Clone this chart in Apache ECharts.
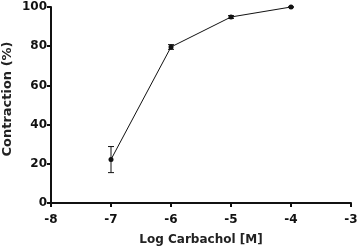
<!DOCTYPE html>
<html><head><meta charset="utf-8">
<script src="https://cdn.jsdelivr.net/npm/echarts@6/dist/echarts.min.js"></script>
<style>html,body{margin:0;padding:0;background:#fff}#c{width:358px;height:248px}</style>
</head><body><div id="c"></div>
<script>
const logConc = [-7, -6, -5, -4];
const contraction = [22.2, 79.6, 94.9, 100];
const errLow = [15.5, 78.4, 94.2, 100];
const errHigh = [28.8, 80.8, 95.6, 100];
const xTicks = [-8, -7, -6, -5, -4, -3];
const yTicks = [0, 20, 40, 60, 80, 100];
const xTitle = 'Log Carbachol [M]';
const yTitle = 'Contraction (%)';

const chart = echarts.init(document.getElementById('c'));
const font = 'DejaVu Sans, sans-serif';
chart.setOption({
  animation: false,
  grid: {left: 51, right: 7, top: 7, bottom: 45, outerBoundsMode: 'none', containLabel: false},
  graphic: [{
    type: 'text', x: 8, y: 99, rotation: Math.PI / 2,
    style: {text: yTitle, fill: '#222', font: 'bold 13px DejaVu Sans, sans-serif',
            textAlign: 'center', textVerticalAlign: 'middle'}
  }],
  xAxis: {
    type: 'value', min: xTicks[0], max: xTicks[xTicks.length-1], interval: 1,
    name: xTitle, nameLocation: 'middle', nameGap: 31,
    nameTextStyle: {color: '#222', fontWeight: 'bold', fontSize: 12, fontFamily: font},
    axisLine: {lineStyle: {color: '#111', width: 2}},
    axisTick: {length: 4, lineStyle: {color: '#111', width: 2}},
    axisLabel: {color: '#111', fontWeight: 'bold', fontSize: 12, fontFamily: font, margin: 11},
    splitLine: {show: false}
  },
  yAxis: {
    type: 'value', min: yTicks[0], max: yTicks[yTicks.length-1], interval: 20,
    axisLine: {show: true, lineStyle: {color: '#111', width: 2}},
    axisTick: {show: true, length: 4, lineStyle: {color: '#111', width: 2}},
    axisLabel: {color: '#111', fontWeight: 'bold', fontSize: 12, fontFamily: font, margin: 4},
    splitLine: {show: false}
  },
  series: [
    {
      type: 'line', data: logConc.map((x, i) => [x, contraction[i]]),
      symbol: 'circle', symbolSize: 5,
      lineStyle: {color: '#111', width: 1}, itemStyle: {color: '#111'}
    },
    {
      type: 'custom',
      data: logConc.map((x, i) => [x, errLow[i], errHigh[i]]),
      renderItem: function (params, api) {
        const lo = api.coord([api.value(0), api.value(1)]);
        const hi = api.coord([api.value(0), api.value(2)]);
        const w = 3;
        const style = {stroke: '#111', lineWidth: 1};
        return {type: 'group', children: [
          {type: 'line', shape: {x1: lo[0], y1: lo[1], x2: hi[0], y2: hi[1]}, style},
          {type: 'line', shape: {x1: lo[0]-w, y1: lo[1], x2: lo[0]+w, y2: lo[1]}, style},
          {type: 'line', shape: {x1: hi[0]-w, y1: hi[1], x2: hi[0]+w, y2: hi[1]}, style}
        ]};
      },
      z: 3
    }
  ]
});
</script></body></html>
